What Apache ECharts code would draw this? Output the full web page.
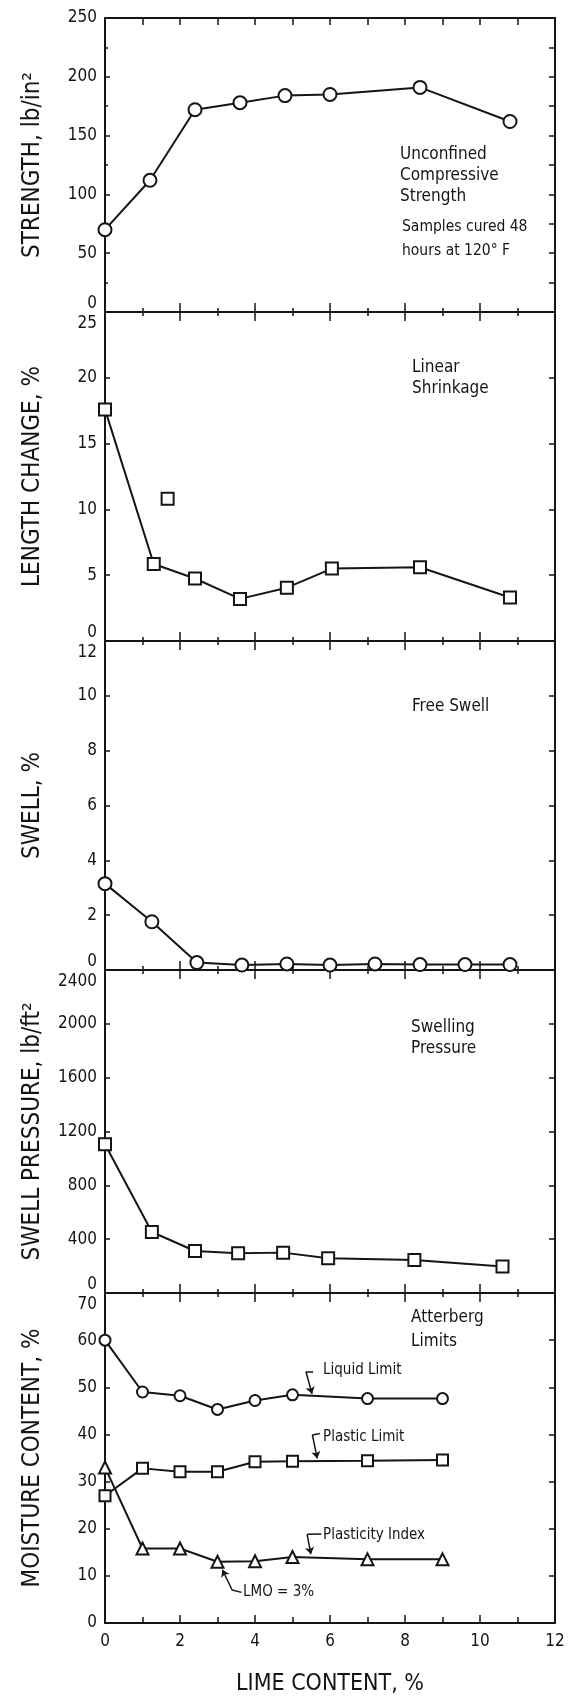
<!DOCTYPE html>
<html>
<head>
<meta charset="utf-8">
<script src="https://cdn.jsdelivr.net/npm/echarts@6/dist/echarts.min.js"></script>
<style>
  html, body { margin: 0; background: #fff; }
  #chart-container { width: 568px; height: 1699px; }
</style>
</head>
<body>
<div id="chart-container"></div>
<script>
var ink = '#151515';
var tickFont = "'DejaVu Sans Condensed', 'Liberation Sans Narrow', sans-serif";
var nameFont = "'Liberation Sans Narrow', 'DejaVu Sans Condensed', sans-serif";

// unconfined compressive strength
var limeStrength = [0, 1.2, 2.4, 3.6, 4.8, 6.0, 8.4, 10.8];
var strength = [70, 112, 172, 178, 184, 185, 191, 162];

// linear shrinkage (plus the one loose point)
var limeShrink = [0, 1.3, 2.4, 3.6, 4.85, 6.05, 8.4, 10.8];
var shrinkage = [17.6, 5.85, 4.75, 3.2, 4.05, 5.5, 5.6, 3.3];
var shrinkLoose = [[1.67, 10.8]];

// free swell
var limeSwell = [0, 1.25, 2.45, 3.65, 4.85, 6.0, 7.2, 8.4, 9.6, 10.8];
var swell = [3.15, 1.76, 0.27, 0.18, 0.22, 0.18, 0.22, 0.2, 0.2, 0.2];

// swelling pressure
var limePressure = [0, 1.25, 2.4, 3.55, 4.75, 5.95, 8.25, 10.6];
var pressure = [1105, 453, 312, 295, 300, 258, 245, 196];

// atterberg limits
var limeAtterberg = [0, 1, 2, 3, 4, 5, 7, 9];
var liquidLimit = [60, 49, 48.2, 45.3, 47.2, 48.4, 47.6, 47.6];
var plasticLimit = [27, 32.8, 32.1, 32.1, 34.2, 34.3, 34.4, 34.6];
var plasticityIndex = [33, 15.8, 15.8, 13, 13.1, 14, 13.5, 13.5];

// leader lines of the atterberg labels, in data units
var leaderHooks = [
  [[5.55, 53.4], [5.36, 53.3]],
  [[5.73, 40.2], [5.53, 39.9]],
  [[5.77, 18.9], [5.39, 18.8]],
  [[3.64, 6.5], [3.39, 7.0]]
];
var leaderArrows = [
  [[5.36, 53.3], [5.52, 48.6]],
  [[5.53, 39.9], [5.66, 34.9]],
  [[5.39, 18.8], [5.49, 14.6]],
  [[3.39, 7.0], [3.13, 11.3]]
];

var panels = [
  { name: 'STRENGTH, lb/in\u00b2', max: 250, interval: 50, minor: true, top: 18, height: 294 },
  { name: 'LENGTH CHANGE, %', max: 25, interval: 5, minor: false, top: 312, height: 329 },
  { name: 'SWELL, %', max: 12, interval: 2, minor: false, top: 641, height: 329 },
  { name: 'SWELL PRESSURE, lb/ft\u00b2', max: 2400, interval: 400, minor: false, top: 970, height: 323 },
  { name: 'MOISTURE CONTENT, %', max: 70, interval: 10, minor: false, top: 1293, height: 330 }
];

var notes = [
  ['Unconfined', 400, 155, 17], ['Compressive', 400, 176, 17], ['Strength', 400, 197, 17],
  ['Samples cured 48', 402, 227, 15.5], ['hours at 120\u00b0 F', 402, 251, 15.5],
  ['Linear', 412, 368, 17], ['Shrinkage', 412, 389, 17],
  ['Free Swell', 412, 707, 17],
  ['Swelling', 411, 1028, 17], ['Pressure', 411, 1049, 17],
  ['Atterberg', 411, 1318, 17], ['Limits', 411, 1342, 17],
  ['Liquid Limit', 323, 1370, 15], ['Plastic Limit', 323, 1437, 15],
  ['Plasticity Index', 323, 1535, 15], ['LMO = 3%', 243, 1592, 15]
];

function pairs(xs, ys) {
  return xs.map(function (x, i) { return [x, ys[i]]; });
}

var dom = document.getElementById('chart-container');
var myChart = echarts.init(dom, null, { renderer: 'canvas' });

var grids = [], xAxes = [], yAxes = [];
var lineW = { color: ink, width: 2 };
var tickW = { color: ink, width: 1.5 };
var labelRich = {
  hi: { padding: [24, 0, 0, 0], fontSize: 17, fontFamily: tickFont, color: ink },
  lo: { padding: [0, 0, 16, 0], fontSize: 17, fontFamily: tickFont, color: ink }
};

panels.forEach(function (p, i) {
  var first = i === 0, last = i === panels.length - 1;
  grids.push({ left: 105, width: 450, top: p.top, height: p.height });
  xAxes.push({
    gridIndex: i, type: 'value', min: 0, max: 12, interval: 2, position: 'bottom',
    axisLine: { onZero: false, lineStyle: lineW },
    axisTick: { inside: true, length: last ? 8 : 9, lineStyle: tickW },
    minorTick: { show: true, splitNumber: 2, length: last ? 6 : 4, lineStyle: tickW },
    splitLine: { show: false },
    axisLabel: { show: last, margin: 10, fontSize: 17, fontFamily: tickFont, color: ink },
    name: last ? 'LIME CONTENT, %' : '',
    nameLocation: 'middle', nameGap: 50,
    nameTextStyle: { fontSize: 23, fontFamily: nameFont, color: ink }
  });
  xAxes.push({
    gridIndex: i, type: 'value', min: 0, max: 12, interval: 2, position: 'top',
    axisLine: { onZero: false, lineStyle: lineW },
    axisTick: { inside: true, length: first ? 7 : 9, lineStyle: tickW },
    minorTick: { show: true, splitNumber: 2, length: first ? 7 : 4, lineStyle: tickW },
    splitLine: { show: false },
    axisLabel: { show: false }
  });
  yAxes.push({
    gridIndex: i, type: 'value', min: 0, max: p.max, interval: p.interval, position: 'left',
    axisLine: { onZero: false, lineStyle: lineW },
    axisTick: { inside: true, length: 5, lineStyle: tickW },
    minorTick: { show: p.minor, splitNumber: 2, length: 3, lineStyle: tickW },
    splitLine: { show: false },
    axisLabel: {
      margin: 8, fontSize: 17, fontFamily: tickFont, color: ink, rich: labelRich,
      formatter: function (v) {
        if (!first && v === p.max) return '{hi|' + v + '}';
        if (!last && v === 0) return '{lo|' + v + '}';
        return String(v);
      }
    },
    name: p.name, nameLocation: 'middle', nameGap: 60,
    nameTextStyle: { fontSize: 24, fontFamily: nameFont, color: ink }
  });
  yAxes.push({
    gridIndex: i, type: 'value', min: 0, max: p.max, interval: p.interval, position: 'right',
    axisLine: { onZero: false, lineStyle: lineW },
    axisTick: { inside: true, length: 6, lineStyle: tickW },
    minorTick: { show: p.minor, splitNumber: 2, length: 6, lineStyle: tickW },
    splitLine: { show: false },
    axisLabel: { show: false }
  });
});

function lineSeries(i, data, symbol, size) {
  return {
    type: 'line', xAxisIndex: 2 * i, yAxisIndex: 2 * i, data: data,
    symbol: symbol, symbolSize: size, showAllSymbol: true,
    lineStyle: { color: ink, width: 2 },
    itemStyle: { color: '#fff', borderColor: ink, borderWidth: 2 },
    z: 3
  };
}

var series = [
  lineSeries(0, pairs(limeStrength, strength), 'circle', 13),
  lineSeries(1, pairs(limeShrink, shrinkage), 'rect', 12),
  {
    type: 'scatter', xAxisIndex: 2, yAxisIndex: 2, data: shrinkLoose,
    symbol: 'rect', symbolSize: 12,
    itemStyle: { color: '#fff', borderColor: ink, borderWidth: 2, opacity: 1 }
  },
  lineSeries(2, pairs(limeSwell, swell), 'circle', 13),
  lineSeries(3, pairs(limePressure, pressure), 'rect', 12),
  lineSeries(4, pairs(limeAtterberg, liquidLimit), 'circle', 11),
  lineSeries(4, pairs(limeAtterberg, plasticLimit), 'rect', 11),
  lineSeries(4, pairs(limeAtterberg, plasticityIndex), 'triangle', 12),
  {
    type: 'lines', coordinateSystem: 'cartesian2d', xAxisIndex: 8, yAxisIndex: 8,
    data: leaderHooks.map(function (c) { return { coords: c }; }),
    lineStyle: { color: ink, width: 1.5, opacity: 1 }, symbol: 'none', silent: true, z: 4
  },
  {
    type: 'lines', coordinateSystem: 'cartesian2d', xAxisIndex: 8, yAxisIndex: 8,
    data: leaderArrows.map(function (c) { return { coords: c }; }),
    lineStyle: { color: ink, width: 1.5, opacity: 1 },
    symbol: ['none', 'arrow'], symbolSize: 7, silent: true, z: 4
  }
];

var graphics = notes.map(function (n) {
  return {
    type: 'text', x: n[1], y: n[2], silent: true,
    style: {
      text: n[0], fill: ink, font: n[3] + 'px ' + tickFont,
      verticalAlign: 'middle', align: 'left'
    }
  };
});

var option = {
  backgroundColor: '#fff',
  animation: false,
  grid: grids,
  xAxis: xAxes,
  yAxis: yAxes,
  series: series,
  graphic: graphics
};

myChart.setOption(option);
window.addEventListener('resize', myChart.resize);
</script>
</body>
</html>
